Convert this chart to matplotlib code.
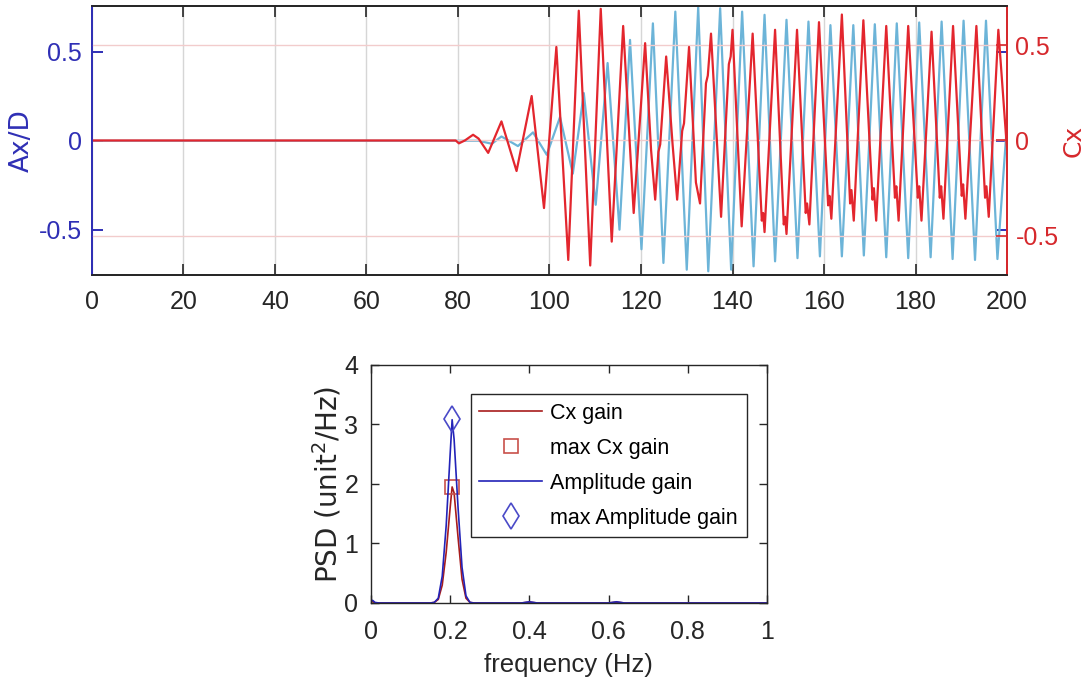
import numpy as np
import matplotlib
matplotlib.use("Agg")
import matplotlib.pyplot as plt

plt.rcParams.update({"font.family": ["Liberation Sans", "DejaVu Sans"],
                     "axes.linewidth": 1.3})

BLUE_TXT = "#2f2fb5"
RED_TXT = "#d6282c"
DARK = "#262626"

# ---- top panel: time series, extrema ----
t_ax = [0, 84.5, 87.4, 89.5, 93.1, 96.4, 99.4, 102.3, 105.1, 107.5, 110.1, 112.7, 115.3,
        117.6, 120.1, 122.6, 124.9, 127.5, 130.0, 132.5, 134.7, 137.3, 139.7, 142.1, 144.6,
        147.0, 149.3, 151.8, 154.2, 156.6, 159.1, 161.4, 163.9, 166.4, 168.7, 171.1, 173.6,
        175.9, 178.4, 180.8, 183.3, 185.7, 188.1, 190.5, 193.0, 195.4, 197.9, 200.0]
ax_d = [0, 0, -0.017, 0.024, -0.03, 0.047, -0.079, 0.133, -0.185, 0.268, -0.36, 0.437, -0.50,
        0.567, -0.61, 0.66, -0.687, 0.726, -0.725, 0.75, -0.734, 0.745, -0.725, 0.726, -0.706,
        0.708, -0.678, 0.68, -0.66, 0.67, -0.65, 0.65, -0.65, 0.65, -0.645, 0.655, -0.655,
        0.66, -0.66, 0.665, -0.655, 0.67, -0.665, 0.675, -0.67, 0.675, -0.665, 0.1]

t_cx = [0, 79.5, 80.2, 81.5, 83.3, 84.5, 86.6, 89.5, 92.8, 96.1, 98.8, 101.5, 104.1, 106.4,
        108.9, 111.2, 113.6, 116.1, 118.4, 120.9, 122.2, 123.1, 123.8, 124.2, 125.5, 126.9,
        127.9, 129.0, 129.4, 130.5, 132.0, 132.9, 134.2, 134.6, 135.3, 137.5, 139.2, 139.6,
        140.0, 142.0, 144.4, 146.4, 146.7, 147.0, 149.3, 151.2, 151.5, 151.8, 154.1,
        156.0, 156.3, 156.8, 158.9, 160.9, 161.2, 161.6, 163.9, 165.7, 166.0, 166.5,
        168.6, 170.6, 170.9, 171.4, 173.6, 175.5, 175.8, 176.3, 178.4, 180.5, 180.8, 181.3,
        183.5, 185.3, 185.6, 186.1, 188.2, 190.1, 190.4, 190.9, 193.3, 195.2, 195.5, 196.0,
        198.1, 200.0]
cx = [0, 0, -0.015, 0.0, 0.03, 0.01, -0.065, 0.10, -0.16, 0.233, -0.354, 0.49, -0.626, 0.68,
      -0.655, 0.69, -0.53, 0.60, -0.38, 0.51, -0.05, -0.31, -0.06, -0.02, 0.44, -0.02,
      -0.31, 0.05, 0.09, 0.49, -0.22, -0.33, 0.30, 0.34, 0.56, -0.40, 0.40, 0.44,
      0.58, -0.45, 0.56, -0.42, -0.38, -0.48, 0.58, -0.44, -0.40, -0.49, 0.58,
      -0.38, -0.33, -0.44, 0.62, -0.34, -0.29, -0.41, 0.66, -0.33, -0.26, -0.42,
      0.63, -0.31, -0.25, -0.42, 0.60, -0.30, -0.24, -0.42, 0.60, -0.30, -0.24, -0.42,
      0.57, -0.30, -0.24, -0.41, 0.60, -0.29, -0.23, -0.41, 0.60, -0.30, -0.24, -0.40,
      0.58, -0.05]

x_ticks = [0, 20, 40, 60, 80, 100, 120, 140, 160, 180, 200]
y_ticks = [-0.5, 0, 0.5]

# ---- bottom panel: PSD ----
freq = [0, 0.005, 0.01, 0.02, 0.15, 0.16, 0.17, 0.18, 0.19, 0.20, 0.205, 0.21, 0.22, 0.23,
        0.24, 0.25, 0.26, 0.38, 0.40, 0.42, 0.60, 0.62, 0.64, 1.0]
amp_gain = [0.05, 0.04, 0.01, 0, 0, 0.01, 0.08, 0.45, 1.3, 2.5, 3.08, 2.75, 1.6, 0.6,
            0.12, 0.01, 0, 0, 0.02, 0, 0, 0.02, 0, 0]
cx_gain = [0.03, 0.02, 0.0, 0, 0, 0.01, 0.06, 0.3, 0.85, 1.6, 1.95, 1.85, 1.1, 0.4,
           0.08, 0.01, 0, 0, 0.015, 0, 0, 0.015, 0, 0]

fig = plt.figure(figsize=(10.92, 6.9), dpi=100)

ax1 = fig.add_axes([0.0842, 0.6014, 0.838, 0.39])
ax2 = ax1.twinx()
ax1.plot(t_ax, ax_d, color="#6cb4d8", lw=1.6)
ax2.plot(t_cx, cx, color="#e3262e", lw=1.6)
ax1.set_xlim(0, 200)
ax1.set_ylim(-0.755, 0.758)
ax2.set_ylim(-0.705, 0.705)
ax1.set_xticks(x_ticks)
ax1.set_yticks(y_ticks)
ax1.set_yticklabels(["-0.5", "0", "0.5"])
ax2.set_yticks(y_ticks)
ax2.set_yticklabels(["-0.5", "0", "0.5"])
ax1.xaxis.grid(True, color="#d6d6d6", lw=1.0)
ax2.yaxis.grid(True, color="#f2cccc", lw=1.0)
ax1.set_axisbelow(True)
ax2.set_axisbelow(True)
ax1.tick_params(axis="x", direction="in", top=True, length=8, width=1.2, colors=DARK,
                labelsize=18, pad=11)
ax1.tick_params(axis="y", direction="in", right=True, length=8, width=1.4, colors=BLUE_TXT,
                labelsize=18, pad=7)
ax2.tick_params(axis="y", direction="in", length=8, width=1.2, colors=RED_TXT,
                labelsize=18, pad=6)
for a in (ax1, ax2):
    a.spines["top"].set_color(DARK)
    a.spines["bottom"].set_color(DARK)
    a.spines["left"].set_color(BLUE_TXT)
    a.spines["right"].set_color(RED_TXT)
ax1.set_ylabel("Ax/D", color=BLUE_TXT, fontsize=19, family="DejaVu Sans", va="center")
ax1.yaxis.set_label_coords(-0.077, 0.5)
ax2.set_ylabel("Cx", color=RED_TXT, fontsize=18, family="DejaVu Sans", va="center")
ax2.yaxis.set_label_coords(1.0732, 0.5)

ax3 = fig.add_axes([0.3397, 0.1261, 0.3626, 0.345])
ax3.plot(freq, cx_gain, color="#a81c1c", lw=1.2, label="Cx gain")
i_cx = int(np.argmax(cx_gain))
ax3.plot(freq[i_cx], cx_gain[i_cx], "s", mfc="none", mec="#c8504a", ms=10, mew=1.2,
         label="max Cx gain")
ax3.plot(freq, amp_gain, color="#2323b8", lw=1.2, label="Amplitude gain")
i_amp = int(np.argmax(amp_gain))
ax3.plot(freq[i_amp], amp_gain[i_amp] + 0.02, "d", mfc="none", mec="#4a4ac8", ms=13, mew=1.2,
         label="max Amplitude gain")
ax3.set_xlim(0, 1)
ax3.set_ylim(0, 4)
ax3.set_xticks([0, 0.2, 0.4, 0.6, 0.8, 1])
ax3.set_xticklabels(["0", "0.2", "0.4", "0.6", "0.8", "1"])
ax3.set_yticks([0, 1, 2, 3, 4])
ax3.tick_params(direction="in", top=True, right=True, length=6, width=1.0, colors=DARK,
                labelsize=18, pad=12)
ax3.tick_params(axis="y", pad=9)
for s in ax3.spines.values():
    s.set_color(DARK)
    s.set_linewidth(1.0)
ax3.set_xlabel("frequency (Hz)", fontsize=18.5, color=DARK, labelpad=7)
ax3.set_ylabel("PSD (unit$^2$/Hz)", fontsize=20, color=DARK, family="DejaVu Sans")
ax3.yaxis.set_label_coords(-0.07, 0.5)
leg = ax3.legend(loc="upper right", bbox_to_anchor=(0.949, 0.878), fontsize=15.5,
                 frameon=True, fancybox=False, edgecolor=DARK, framealpha=1,
                 handlelength=2.9, handletextpad=0.4, labelspacing=0.65, borderpad=0.4,
                 borderaxespad=0)
leg.get_frame().set_linewidth(1.0)

fig.savefig("out.png", dpi=100)
